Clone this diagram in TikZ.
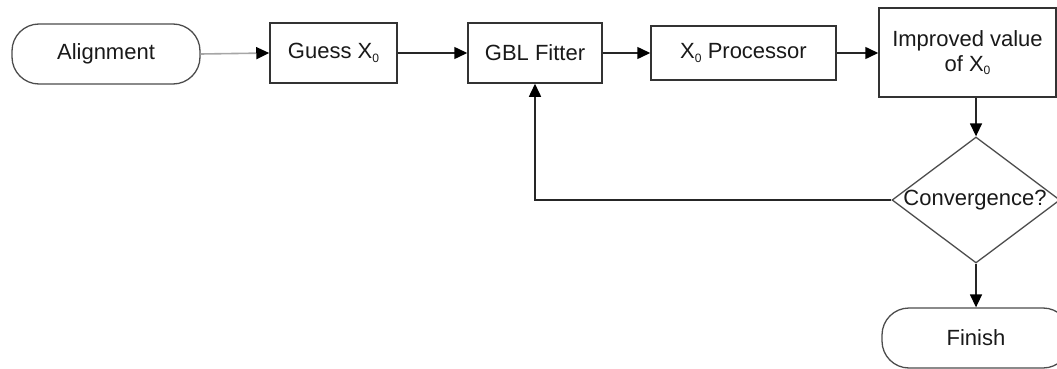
\documentclass[tikz,border=0pt]{standalone}
\usepackage{fontspec}
\setmainfont{Liberation Sans}
\usetikzlibrary{arrows.meta,shapes.geometric}
\newcommand\sub[1]{\raisebox{-0.3ex}{\scalebox{0.55}{#1}}}
\begin{document}
\begin{tikzpicture}[x=1pt,y=-1pt,
  every node/.style={font=\fontsize{22}{25}\selectfont, text=black!90},
  box/.style={draw=black!80, line width=1.5pt, rectangle, inner sep=0pt, align=center},
  term/.style={draw=black!70, line width=1.3pt, rectangle, rounded corners=27pt, inner sep=0pt},
  decide/.style={draw=black!70, line width=1.3pt, diamond, inner sep=0pt},
  tip/.style={-{Triangle[length=13pt,width=12pt,color=black]}},
  link/.style={draw=black!85, line width=1.5pt, tip},
  faint/.style={draw=black!35, line width=1.6pt, tip}]
\useasboundingbox (0,0) rectangle (1057,369);
\clip (0,0) rectangle (1057,369);
% terminals
\node[term, minimum width=188pt, minimum height=60pt] (align) at (106,54) {Alignment};
\node[term, minimum width=188pt, minimum height=60pt] (finish) at (976,338) {Finish};
% process boxes
\node[box, minimum width=127pt, minimum height=60pt] (guess) at (333.5,53) {Guess X\sub{0}};
\node[box, minimum width=134pt, minimum height=60pt] (gbl) at (535,53) {GBL Fitter};
\node[box, minimum width=185pt, minimum height=54pt] (proc) at (743.5,53) {X\sub{0} Processor};
\node[box, minimum width=177pt, minimum height=89pt] (impr) at (967.5,52.5) {Improved value\\of X\sub{0}};
% decision
\node[decide, minimum width=168pt, minimum height=126pt] (conv) at (976,200) {};
\node at (975,200) {Convergence?};
% connectors
\draw[faint] (align.east) -- (guess.west);
\draw[link] (guess.east) -- (gbl.west);
\draw[link] (gbl.east) -- (proc.west);
\draw[link] (proc.east) -- (proc.east -| impr.west);
\draw[link] (conv.north |- impr.south) -- (conv.north);
\draw[link] (conv.south) -- (finish.north);
\draw[link] (conv.west) -| (gbl.south);
\end{tikzpicture}
\end{document}
